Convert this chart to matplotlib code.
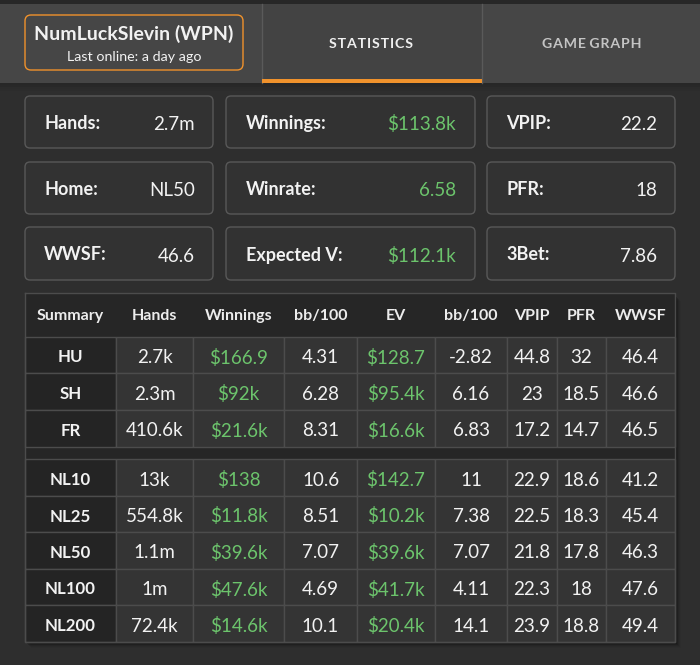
import matplotlib
matplotlib.use("Agg")
import matplotlib.pyplot as plt
from matplotlib.patches import FancyBboxPatch, Rectangle

# ---------------- data ----------------
player_name = "NumLuckSlevin (WPN)"
player_status = "Last online: a day ago"
tabs = ["STATISTICS", "GAME GRAPH"]

stat_labels = ["Hands:", "Winnings:", "VPIP:",
               "Home:", "Winrate:", "PFR:",
               "WWSF:", "Expected V:", "3Bet:"]
stat_values = ["2.7m", "$113.8k", "22.2",
               "NL50", "6.58", "18",
               "46.6", "$112.1k", "7.86"]
stat_green = [False, True, False,
              False, True, False,
              False, True, False]

columns = ["Summary", "Hands", "Winnings", "bb/100", "EV", "bb/100", "VPIP", "PFR", "WWSF"]
green_cols = [2, 4]

rows1 = ["HU", "SH", "FR"]
hands1 = ["2.7k", "2.3m", "410.6k"]
winnings1 = ["$166.9", "$92k", "$21.6k"]
bb1 = ["4.31", "6.28", "8.31"]
ev1 = ["$128.7", "$95.4k", "$16.6k"]
evbb1 = ["-2.82", "6.16", "6.83"]
vpip1 = ["44.8", "23", "17.2"]
pfr1 = ["32", "18.5", "14.7"]
wwsf1 = ["46.4", "46.6", "46.5"]

rows2 = ["NL10", "NL25", "NL50", "NL100", "NL200"]
hands2 = ["13k", "554.8k", "1.1m", "1m", "72.4k"]
winnings2 = ["$138", "$11.8k", "$39.6k", "$47.6k", "$14.6k"]
bb2 = ["10.6", "8.51", "7.07", "4.69", "10.1"]
ev2 = ["$142.7", "$10.2k", "$39.6k", "$41.7k", "$20.4k"]
evbb2 = ["11", "7.38", "7.07", "4.11", "14.1"]
vpip2 = ["22.9", "22.5", "21.8", "22.3", "23.9"]
pfr2 = ["18.6", "18.3", "17.8", "18", "18.8"]
wwsf2 = ["41.2", "45.4", "46.3", "47.6", "49.4"]

# ---------------- style ----------------
BG = "#2e2e2e"
HEADER_BG = "#464646"
BOX_BG = "#323232"
BOX_EDGE = "#585858"
ORANGE = "#f0922c"
GREEN = "#6cc46c"
WHITE = "#f2f2f2"
CELL_BG = "#343434"
FIRST_BG = "#242424"
THEAD_BG = "#262626"
GRID = "#4c4c4c"
FONT = ["Lato", "DejaVu Sans"]

fig = plt.figure(figsize=(7.0, 6.65), dpi=100, facecolor=BG)
ax = fig.add_axes([0, 0, 1, 1])
ax.set_xlim(0, 700)
ax.set_ylim(665, 0)
ax.axis("off")
ax.set_facecolor(BG)


def rect(x0, y0, x1, y1, fc, ec="none", lw=0, z=1, alpha=1.0):
    ax.add_patch(Rectangle((x0, y0), x1 - x0, y1 - y0, fc=fc, ec=ec, lw=lw,
                           zorder=z, alpha=alpha))


def rbox(x0, y0, x1, y1, fc, ec, lw=1.0, r=5, z=2):
    ax.add_patch(FancyBboxPatch((x0, y0), x1 - x0, y1 - y0,
                                boxstyle=f"round,pad=0,rounding_size={r}",
                                fc=fc, ec=ec, lw=lw, zorder=z))


def txt(x, y, s, size, color=WHITE, ha="center", weight="normal", z=5):
    ax.text(x, y, s, fontsize=size, color=color, ha=ha, va="center_baseline",
            fontweight=weight, family=FONT, zorder=z)


# ---------------- header ----------------
rect(0, 0, 700, 4, "#272727", z=1)
rect(0, 4, 700, 83, HEADER_BG, z=1)
for i, a in enumerate([0.35, 0.25, 0.15, 0.08]):
    rect(0, 83 + i * 2, 700, 85 + i * 2, "#1a1a1a", z=1, alpha=a)

rbox(25, 15, 243, 70, HEADER_BG, ORANGE, lw=1.0, r=6, z=3)
txt(134, 32, player_name, 14, weight="bold")
txt(134, 56, player_status, 10.3)

# tabs
rect(262, 4, 482, 83, "#434343", z=2)
ax.plot([262, 262], [4, 83], color="#5a5a5a", lw=1.0, zorder=3)
ax.plot([482, 482], [4, 83], color="#5a5a5a", lw=1.0, zorder=3)
rect(262, 79, 482, 83, ORANGE, z=4)
tab_centers = [371, 592]
tab_colors = ["#f0f0f0", "#c4c4c4"]
for name, xc, col in zip(tabs, tab_centers, tab_colors):
    spaced = "\u200a".join(name).replace("\u200a \u200a", " ")
    txt(xc, 43, spaced, 10.2, color=col, weight="bold")

# ---------------- stat boxes ----------------
box_cols = [(25, 213), (226, 475), (487, 675)]
box_rows = [(96, 148), (162, 214), (227, 280)]
label_x = [44, 246, 506]
value_x = [195, 456, 657]
for k in range(len(stat_labels)):
    r, c = divmod(k, 3)
    x0, x1 = box_cols[c]
    y0, y1 = box_rows[r]
    rbox(x0, y0, x1, y1, BOX_BG, BOX_EDGE, lw=1.0, r=5)
    yc = (y0 + y1) / 2
    txt(label_x[c], yc, stat_labels[k], 13, ha="left", weight="bold")
    txt(value_x[c], yc + 1, stat_values[k], 13.5,
        color=GREEN if stat_green[k] else WHITE, ha="right")

# ---------------- table ----------------
col_edges = [25, 116, 193, 284, 357, 435, 507, 557, 606, 675]
head_y = (293, 336)
g1_edges = [337, 373, 410, 447]
g2_edges = [459, 496, 532, 569, 605, 642]
tx0, tx1 = col_edges[0], col_edges[-1]

for i, a in enumerate([0.45, 0.3, 0.18, 0.1, 0.05]):
    rect(tx0 + 2 + i, head_y[0] + 4 + i, tx1 + 2 + i, g2_edges[-1] + 2 + i, "#151515", z=1, alpha=a)

rect(tx0, head_y[0], tx1, g2_edges[-1], THEAD_BG, z=2)
ax.plot([tx0, tx1, tx1, tx0, tx0], [head_y[0], head_y[0], g2_edges[-1], g2_edges[-1], head_y[0]],
        color=GRID, lw=1.0, zorder=4)

centers = [(col_edges[i] + col_edges[i + 1]) / 2 for i in range(len(columns))]
for i, name in enumerate(columns):
    txt(centers[i], (head_y[0] + head_y[1]) / 2, name, 11.5, color="#ececec", weight="bold")

group1 = [rows1, hands1, winnings1, bb1, ev1, evbb1, vpip1, pfr1, wwsf1]
group2 = [rows2, hands2, winnings2, bb2, ev2, evbb2, vpip2, pfr2, wwsf2]


def draw_group(cols, edges):
    for r in range(len(cols[0])):
        y0, y1 = edges[r], edges[r + 1]
        yc = (y0 + y1) / 2
        for c in range(len(cols)):
            x0, x1 = col_edges[c], col_edges[c + 1]
            rect(x0, y0, x1, y1, FIRST_BG if c == 0 else CELL_BG, ec=GRID, lw=1.0, z=3)
            color = GREEN if c in green_cols else WHITE
            weight = "bold" if c == 0 else "normal"
            size = 12.2 if c == 0 else 13.5
            txt(centers[c], yc + 1, cols[c][r], size, color=color, weight=weight)


draw_group(group1, g1_edges)
draw_group(group2, g2_edges)

fig.savefig("out.png", dpi=100, facecolor=BG)
